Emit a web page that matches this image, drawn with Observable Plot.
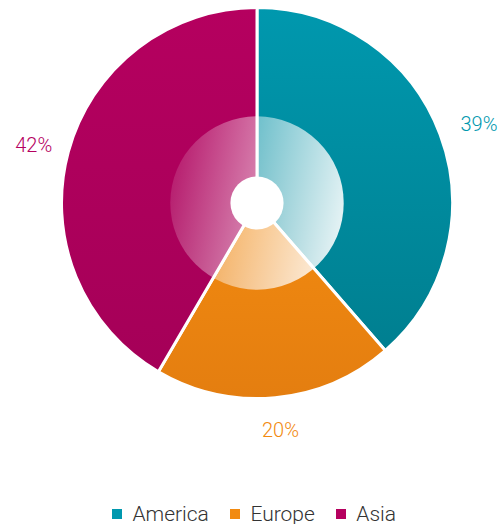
<!DOCTYPE html>
<html><head><meta charset="utf-8">
<script src="https://cdn.jsdelivr.net/npm/d3@7"></script>
<script src="https://cdn.jsdelivr.net/npm/@observablehq/plot@0.6"></script>
<style>
body{margin:0;background:#fff;font-family:Roboto,sans-serif}
#chart{width:499px}
#legend{display:flex;justify-content:center;padding-left:30px;}
</style></head><body><div id="chart"></div><div id="legend"></div><script>
const regions = ["America", "Europe", "Asia"];
const shares = [39, 20, 42];
const labels = ["39%", "20%", "42%"];
const colors = ["#0098ae", "#f28a10", "#b5005f"];
const darker = ["#007f90", "#e47e10", "#a50058"];

const data = regions.map((r, i) => ({region: r, value: shares[i], label: labels[i], dark: darker[i]}));
const arcs = d3.pie().sort(null).value(d => d.value)(data);
arcs.forEach(a => {
  const m = (a.startAngle + a.endAngle) / 2;
  const s = Math.sin(m), c = Math.cos(m);
  const r = 1 + (19 + 19 * Math.abs(s) + 10 * Math.abs(c)) / 194;
  a.data.lx = r * s; a.data.ly = r * c;
  a.data.start = a.startAngle; a.data.end = a.endAngle;
});

function pie(index, scales, values, dimensions, context) {
  const cx = scales.x(0), cy = scales.y(0);
  const R = scales.x(1) - cx;
  const g = d3.create("svg:g");
  const defs = g.append("defs");
  data.forEach((d, i) => {
    const lg = defs.append("linearGradient").attr("id", "sg" + i)
      .attr("x1", 0).attr("y1", 0).attr("x2", 0).attr("y2", 1);
    lg.append("stop").attr("offset", 0).attr("stop-color", scales.color(d.region));
    lg.append("stop").attr("offset", 1).attr("stop-color", d.dark);
  });
  const ig = defs.append("linearGradient").attr("id", "ig")
    .attr("x1", 0).attr("y1", 0.4).attr("x2", 1).attr("y2", 0.6);
  ig.append("stop").attr("offset", 0).attr("stop-color", "#fff").attr("stop-opacity", 0.12);
  ig.append("stop").attr("offset", 1).attr("stop-color", "#fff").attr("stop-opacity", 0.9);
  const arc = d3.arc().innerRadius(0).outerRadius(R + 1.5);
  g.append("g").attr("transform", `translate(${cx},${cy})`)
    .selectAll("path").data(data).join("path")
    .attr("d", d => arc({startAngle: d.start, endAngle: d.end}))
    .attr("fill", (d, i) => `url(#sg${i})`)
    .attr("stroke", "#fff").attr("stroke-width", 3).attr("stroke-linejoin", "round");
  g.append("circle").attr("cx", cx).attr("cy", cy).attr("r", R * 0.447).attr("fill", "url(#ig)");
  g.append("circle").attr("cx", cx).attr("cy", cy).attr("r", R * 0.137).attr("fill", "#fff");
  return g.node();
}

const chart = Plot.plot({
  width: 499, height: 497,
  margin: 0,
  style: {fontFamily: "Roboto", background: "#fff"},
  x: {domain: [-1, 1], range: [63, 451], axis: null},
  y: {domain: [-1, 1], range: [397, 9], axis: null},
  color: {domain: regions, range: colors},
  marks: [
    pie,
    Plot.text(data, {x: "lx", y: "ly", dx: 2, dy: 3, text: "label", fill: "region", fontSize: 20, fontWeight: 300, fontFamily: "Roboto"})
  ]
});
document.getElementById("chart").append(chart);
const leg = chart.legend("color", {swatchSize: 10, style: {fontSize: "21px", fontWeight: 300, fontFamily: "Roboto", color: "#333"}});
document.getElementById("legend").append(leg);
</script></body></html>
